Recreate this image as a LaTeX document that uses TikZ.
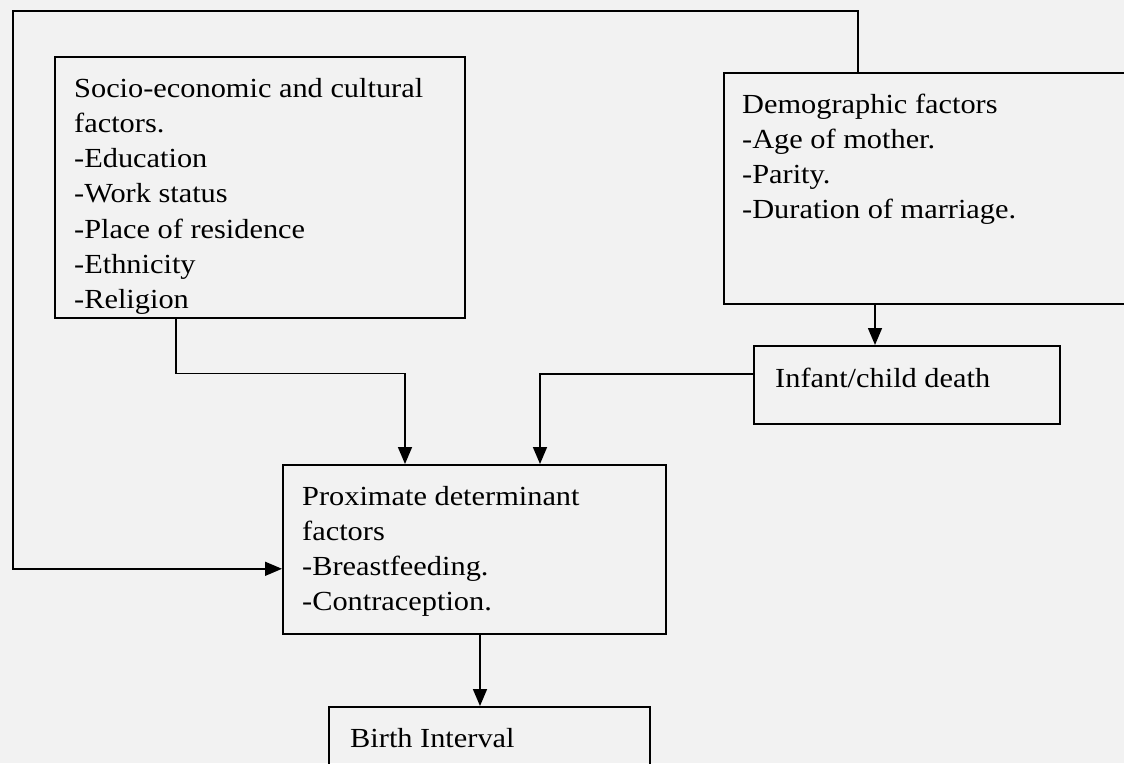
\documentclass[tikz,border=0pt]{standalone}
\usepackage{fontspec}
\setmainfont{Liberation Serif}[FakeStretch=1.1]
\usetikzlibrary{arrows.meta}

\newcommand{\boxlines}[1]{\begin{tabular}[t]{@{}l@{}}#1\end{tabular}}

\tikzset{
    factorbox/.style={draw, line width=1.6pt, inner sep=0pt, anchor=north west},
    boxtext/.style={anchor=base west, inner sep=0pt, font=\fontsize{27.6}{35.3}\selectfont},
    link/.style={line width=1.6pt, -{Triangle[length=17pt, width=14pt]}}
}

\begin{document}
\begin{tikzpicture}[x=1pt, y=-1pt]
    \clip (0,0) rectangle (1124,763);
    \fill [black!5] (0,0) rectangle (1124,763);

    \node [factorbox, minimum width=410pt, minimum height=261pt] (socio) at (54,56) {};
    \node [factorbox, minimum width=430pt, minimum height=231pt] (demo) at (723,72) {};
    \node [factorbox, minimum width=306pt, minimum height=78pt] (infant) at (753,345) {};
    \node [factorbox, minimum width=383pt, minimum height=169pt] (prox) at (282,464) {};
    \node [factorbox, minimum width=321pt, minimum height=90pt] (birth) at (328,706) {};

    \node [boxtext] (socio-txt) at ([shift={(20,41)}]socio.north west) {\boxlines{Socio-economic and cultural\\factors.\\-Education\\-Work status\\-Place of residence\\-Ethnicity\\-Religion}};
    \node [boxtext] (demo-txt) at ([shift={(19,41)}]demo.north west) {\boxlines{Demographic factors\\-Age of mother.\\-Parity.\\-Duration of marriage.}};
    \node [boxtext] (infant-txt) at ([shift={(22,42)}]infant.north west) {Infant/child death};
    \node [boxtext] (prox-txt) at ([shift={(20,41)}]prox.north west) {\boxlines{Proximate determinant\\factors\\-Breastfeeding.\\-Contraception.}};
    \node [boxtext] (birth-txt) at ([shift={(22,41)}]birth.north west) {Birth Interval};

    \coordinate (corner) at (13,11);

    \draw [link] ([xshift=135pt]demo.north west) |- (corner) |- ([yshift=-19.5pt]prox.west);
    \draw [link] ([xshift=122pt]socio.south west) -- ++(0,55) -| ([xshift=123pt]prox.north west);
    \draw [link] ([xshift=152pt]demo.south west) -- ([xshift=122pt]infant.north west);
    \draw [link] ([yshift=11pt]infant.west) -| ([xshift=258pt]prox.north west);
    \draw [link] ([xshift=198pt]prox.south west) -- ([xshift=152pt]birth.north west);
\end{tikzpicture}
\end{document}
